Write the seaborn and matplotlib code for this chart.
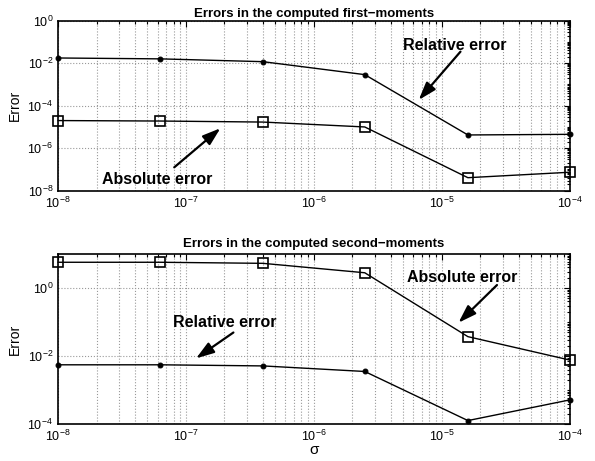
import numpy as np
import pandas as pd
import matplotlib
matplotlib.use("Agg")
import matplotlib.pyplot as plt
import matplotlib.ticker as mticker
import seaborn as sns

# ---- data ----
sigma = [1e-8, 6.3e-8, 4.0e-7, 2.5e-6, 1.6e-5, 1e-4]

first_rel = [1.76e-2, 1.6e-2, 1.18e-2, 2.9e-3, 4.2e-6, 4.5e-6]
first_abs = [2.0e-5, 1.9e-5, 1.7e-5, 1.0e-5, 4.1e-8, 7.4e-8]

second_abs = [5.7, 5.7, 5.3, 2.8, 3.7e-2, 7.6e-3]
second_rel = [5.5e-3, 5.5e-3, 5.1e-3, 3.5e-3, 1.26e-4, 5.1e-4]

title_top = "Errors in the computed first\u2212moments"
title_bot = "Errors in the computed second\u2212moments"
ylabel = "Error"
xlabel = "\u03c3"

sns.set_style("white")
plt.rcParams['font.family'] = ['Liberation Sans', 'DejaVu Sans']
plt.rcParams['mathtext.fontset'] = 'custom'
plt.rcParams['mathtext.rm'] = 'Liberation Sans'
plt.rcParams['mathtext.it'] = 'Liberation Sans:italic'
plt.rcParams['mathtext.bf'] = 'Liberation Sans:bold'
plt.rcParams['text.color'] = 'black'
plt.rcParams['axes.labelcolor'] = 'black'
plt.rcParams['xtick.color'] = 'black'
plt.rcParams['ytick.color'] = 'black'

fig = plt.figure(figsize=(5.95, 4.61), dpi=100)
ax1 = fig.add_axes([0.0975, 0.5863, 0.86, 0.3688])
ax2 = fig.add_axes([0.0975, 0.0803, 0.86, 0.3688])

df1 = pd.DataFrame({"sigma": sigma, "rel": first_rel, "abs": first_abs})
df2 = pd.DataFrame({"sigma": sigma, "rel": second_rel, "abs": second_abs})

def style_axes(ax, ylim, yticks):
    ax.set_xscale('log')
    ax.set_yscale('log')
    ax.set_xlim(1e-8, 1e-4)
    ax.set_ylim(*ylim)
    ax.xaxis.set_major_locator(mticker.LogLocator(base=10, numticks=10))
    ax.xaxis.set_minor_locator(mticker.LogLocator(base=10, subs=np.arange(2, 10), numticks=50))
    ax.yaxis.set_major_locator(mticker.FixedLocator(yticks))
    ax.yaxis.set_major_formatter(mticker.LogFormatterMathtext())
    ax.yaxis.set_minor_locator(mticker.LogLocator(base=10, subs=np.arange(1, 10), numticks=50))
    ax.yaxis.set_minor_formatter(mticker.NullFormatter())
    ax.tick_params(which='both', direction='in', top=True, right=True, labelsize=9, width=0.8,
                   colors='black')
    ax.tick_params(which='major', length=4)
    ax.tick_params(which='minor', length=2)
    ax.grid(True, which='major', axis='both', linestyle=':', color='#999999', linewidth=0.8)
    ax.grid(True, which='minor', axis='x', linestyle=':', color='#999999', linewidth=0.8)
    for s in ax.spines.values():
        s.set_color('black')
        s.set_linewidth(1.2)
        s.set_visible(True)
        s.set_zorder(5)
    ax.set_ylabel(ylabel, fontsize=10)
    ax.set_xlabel("")
    for ln in ax.get_lines():
        ln.set_clip_on(False)
        ln.set_zorder(6)

arrow_kw = dict(arrowstyle='-|>,head_length=0.9,head_width=0.3', color='k', lw=1.6,
                mutation_scale=12, shrinkA=0, shrinkB=0)

def label_arrow(ax, text, text_xy, tail, tip):
    ax.annotate("", xy=tip, xytext=tail, arrowprops=arrow_kw)
    ax.text(text_xy[0], text_xy[1], text, ha='center', va='center',
            fontsize=11.5, fontweight='bold', color='black')

# top
sns.lineplot(data=df1, x="sigma", y="rel", ax=ax1, color='k', marker='o', markersize=3.5,
             markeredgecolor='k', linewidth=1.0)
sns.lineplot(data=df1, x="sigma", y="abs", ax=ax1, color='k', marker='s', markersize=7,
             markerfacecolor='none', markeredgecolor='k', markeredgewidth=1.2, linewidth=1.0)
style_axes(ax1, (1e-8, 1e0), [1e-8, 1e-6, 1e-4, 1e-2, 1e0])
ax1.set_title(title_top, fontsize=9.5, fontweight='bold', pad=3, color='black')

label_arrow(ax1, "Relative error", (1.26e-5, 0.066), (1.4e-5, 0.035), (6.6e-6, 1.86e-4))
label_arrow(ax1, "Absolute error", (6.0e-8, 3.5e-8), (8.1e-8, 1.26e-7), (1.86e-7, 8.7e-6))

# bottom
sns.lineplot(data=df2, x="sigma", y="abs", ax=ax2, color='k', marker='s', markersize=7,
             markerfacecolor='none', markeredgecolor='k', markeredgewidth=1.2, linewidth=1.0)
sns.lineplot(data=df2, x="sigma", y="rel", ax=ax2, color='k', marker='o', markersize=3.5,
             markeredgecolor='k', linewidth=1.0)
style_axes(ax2, (1e-4, 1e1), [1e-4, 1e-2, 1e0])
ax2.set_title(title_bot, fontsize=9.5, fontweight='bold', pad=5, color='black')
ax2.set_xlabel(xlabel, fontsize=11, labelpad=-1)

label_arrow(ax2, "Relative error", (2.0e-7, 0.098), (2.35e-7, 0.049), (1.2e-7, 8.5e-3))
label_arrow(ax2, "Absolute error", (1.44e-5, 2.05), (2.7e-5, 1.22), (1.35e-5, 0.095))

fig.savefig("out.png", dpi=100)
